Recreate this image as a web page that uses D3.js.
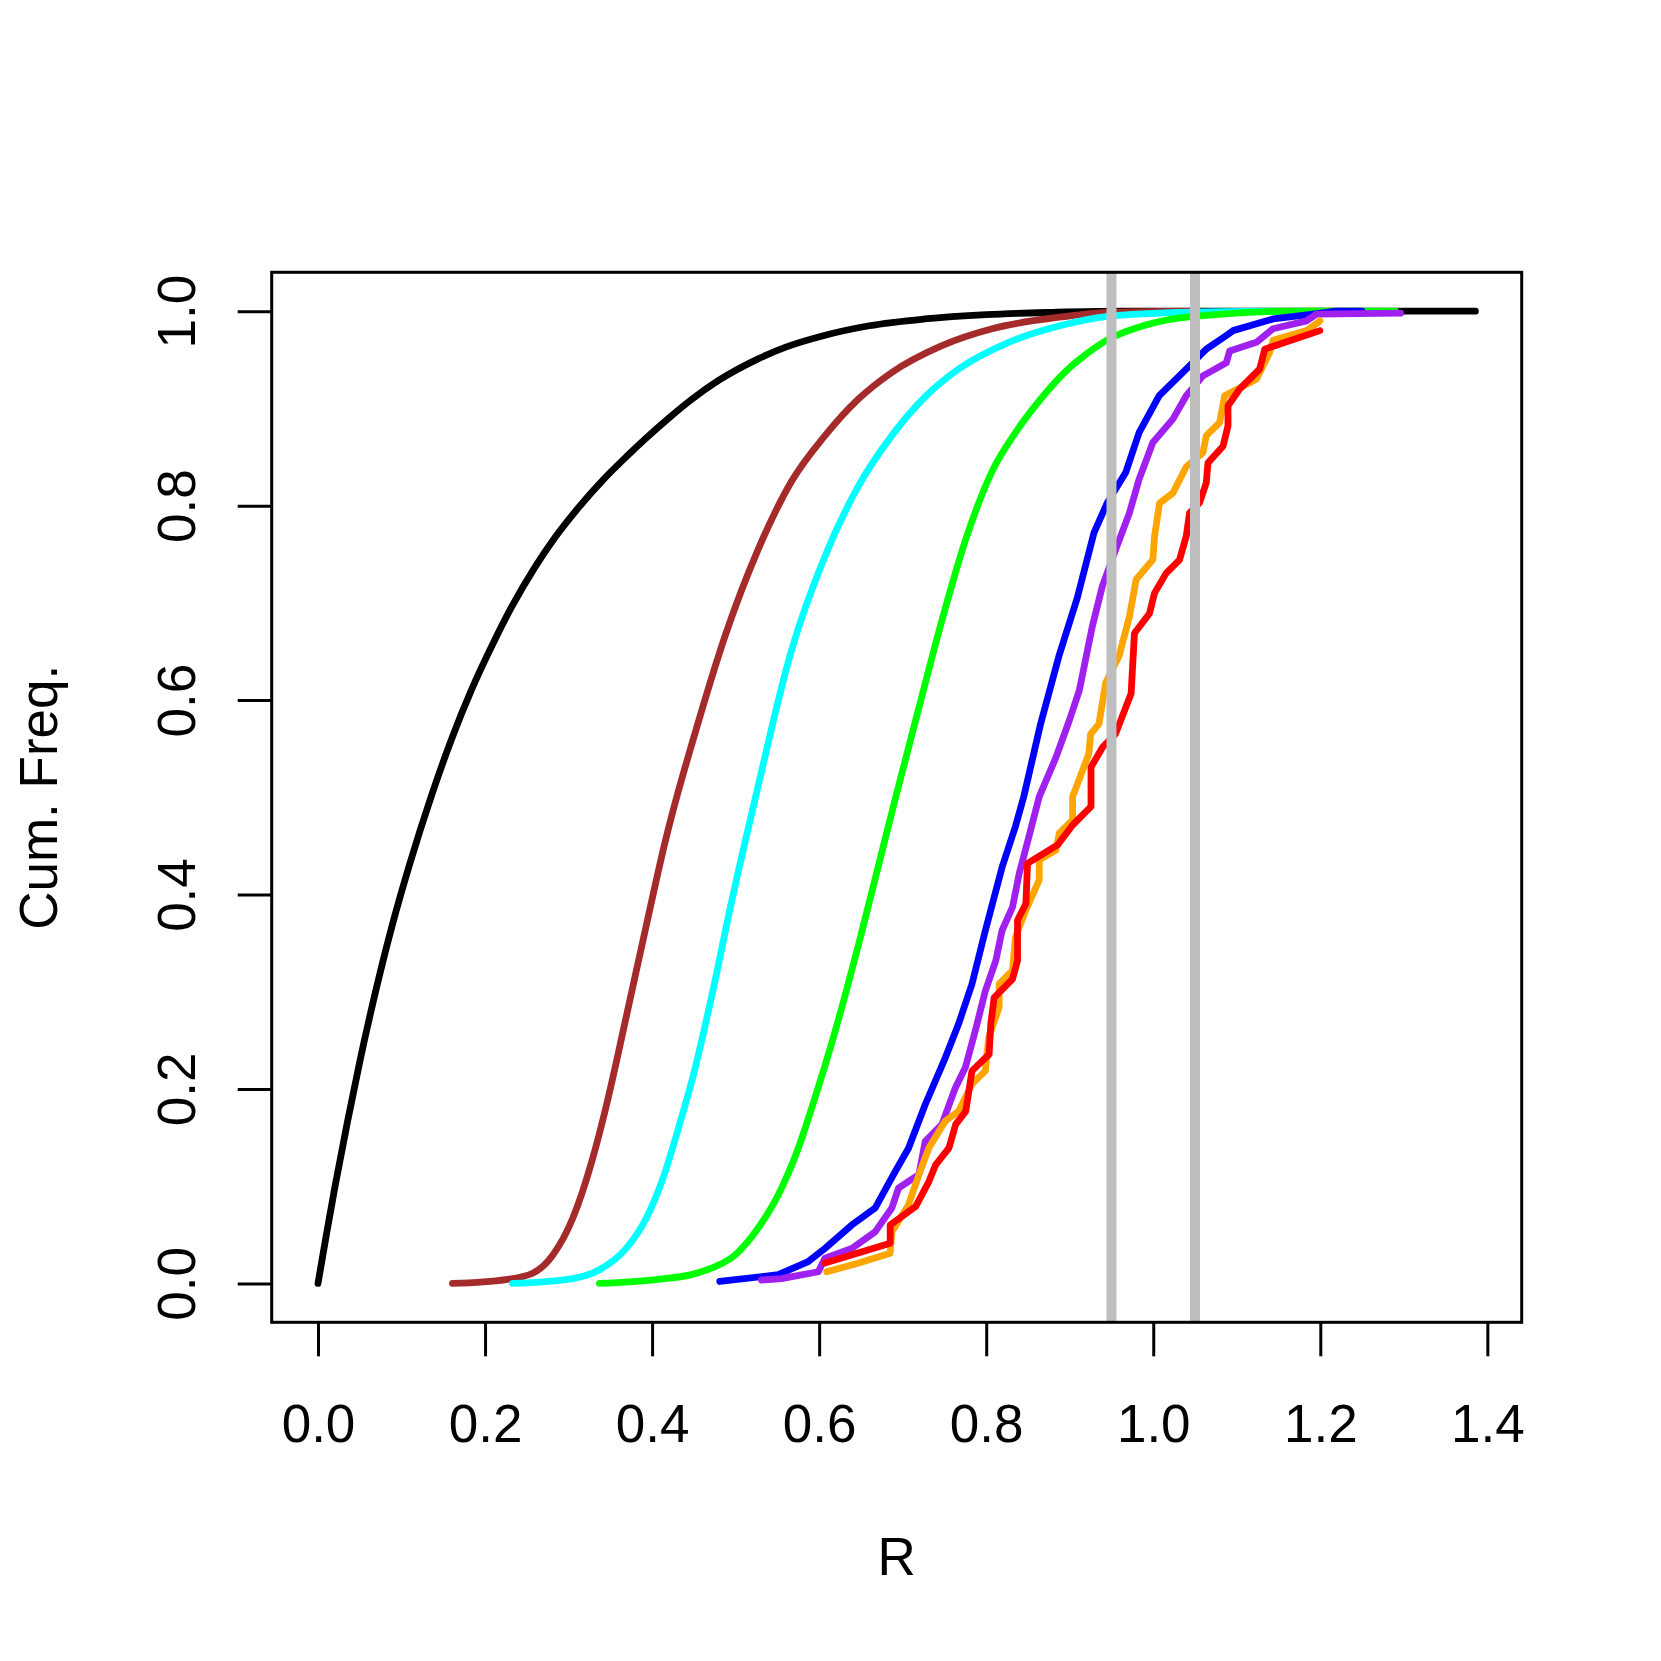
<!DOCTYPE html>
<html>
<head>
<meta charset="utf-8">
<script src="https://cdn.jsdelivr.net/npm/d3@7"></script>
<style>
  body { margin: 0; background: #fff; }
  svg { display: block; font-family: "Liberation Sans", Arial, Helvetica, sans-serif; }
</style>
</head>
<body>
<svg id="chart"></svg>
<script>
// cumulative frequency curves, [R, cum. freq.]
var black = [[0,0],[0.01,0.05],[0.02,0.098],[0.035,0.165],[0.05,0.228],[0.07,0.304],[0.09,0.372],[0.11,0.432],
  [0.136,0.502],[0.16,0.560],[0.184,0.611],[0.21,0.659],[0.232,0.696],[0.26,0.737],[0.2835,0.767],[0.31,0.796],
  [0.343,0.828],[0.37,0.851],[0.391,0.868],[0.42,0.890],[0.447,0.909],[0.48,0.929],[0.527,0.951],[0.56,0.963],
  [0.606,0.975],[0.66,0.985],[0.726,0.992],[0.8,0.9965],[0.88,0.9988],[0.96,1.0],[1.3857,1.0]];
var brown = [[0.161,0],[0.225,0.004],[0.257,0.0105],[0.281,0.029],[0.305,0.067],[0.329,0.129],[0.345,0.182],
  [0.369,0.274],[0.393,0.368],[0.417,0.459],[0.431,0.505],[0.447,0.553],[0.487,0.665],[0.527,0.755],
  [0.567,0.825],[0.607,0.872],[0.647,0.9096],[0.687,0.937],[0.747,0.9646],[0.807,0.982],[0.888,0.9938],
  [0.95,0.999],[1.05,1.0]];
var cyan = [[0.233,0],[0.305,0.005],[0.337,0.014],[0.369,0.036],[0.393,0.067],[0.413,0.108],[0.433,0.164],
  [0.449,0.213],[0.471,0.294],[0.495,0.392],[0.524,0.5007],[0.567,0.6515],[0.607,0.748],[0.647,0.820],
  [0.687,0.872],[0.727,0.912],[0.767,0.9405],[0.827,0.968],[0.888,0.985],[0.943,0.9945],[1.0435,0.999],[1.15,1.0]];
var green = [[0.337,0],[0.405,0.004],[0.447,0.009],[0.471,0.0156],[0.499,0.029],[0.527,0.057],[0.551,0.091],
  [0.575,0.139],[0.595,0.191],[0.615,0.247],[0.631,0.296],[0.647,0.348],[0.667,0.416],[0.691,0.498],
  [0.7194,0.592],[0.747,0.682],[0.7754,0.765],[0.8075,0.836],[0.835,0.875],[0.8675,0.912],[0.895,0.938],
  [0.92,0.956],[0.943,0.9695],[0.983,0.9836],[1.0235,0.992],[1.0835,0.997],[1.1635,1.0],[1.29,1.0]];
var blue = [[0.481,0.002],[0.551,0.009],[0.587,0.0225],[0.607,0.036],[0.639,0.060],[0.667,0.0775],[0.691,0.115],
  [0.707,0.139],[0.727,0.184],[0.751,0.232],[0.767,0.267],[0.783,0.308],[0.799,0.363],[0.819,0.428],
  [0.835,0.470],[0.845,0.5007],[0.865,0.575],[0.887,0.645],[0.909,0.705],[0.929,0.772],[0.945,0.803],
  [0.967,0.834],[0.983,0.875],[1.007,0.913],[1.0355,0.937],[1.0635,0.961],[1.0875,0.975],[1.0955,0.980],
  [1.1435,0.992],[1.1915,0.997],[1.2185,1.0],[1.25,1.0]];
var purple = [[0.531,0.0035],[0.555,0.005],[0.599,0.012],[0.607,0.026],[0.639,0.036],[0.667,0.053],[0.687,0.0775],
  [0.695,0.098],[0.7194,0.112],[0.727,0.146],[0.747,0.1636],[0.763,0.201],[0.775,0.222],[0.787,0.260],
  [0.799,0.301],[0.8115,0.332],[0.819,0.363],[0.8315,0.387],[0.8395,0.4215],[0.851,0.459],[0.8635,0.5007],
  [0.8835,0.541],[0.8995,0.579],[0.9115,0.610],[0.927,0.6755],[0.939,0.717],[0.955,0.7547],[0.9715,0.7925],
  [0.983,0.827],[0.9995,0.865],[1.0235,0.889],[1.0395,0.913],[1.0595,0.9335],[1.0875,0.947],[1.0915,0.959],
  [1.1235,0.968],[1.1435,0.982],[1.1835,0.990],[1.1955,0.997],[1.296,0.998]];
var orange = [[0.609,0.012],[0.6475,0.021],[0.685,0.031],[0.687,0.053],[0.707,0.081],[0.7195,0.112],[0.7315,0.1395],
  [0.751,0.167],[0.767,0.177],[0.783,0.205],[0.799,0.2186],[0.803,0.253],[0.8155,0.284],[0.8155,0.308],
  [0.8315,0.322],[0.835,0.356],[0.8475,0.384],[0.8635,0.415],[0.8635,0.4355],[0.8835,0.4457],[0.8875,0.463],
  [0.9035,0.4767],[0.9035,0.5007],[0.923,0.545],[0.925,0.565],[0.935,0.5755],[0.943,0.6175],[0.959,0.645],
  [0.9715,0.686],[0.9795,0.724],[0.9995,0.7445],[1.0015,0.768],[1.0075,0.8025],[1.0235,0.813],[1.0395,0.840],
  [1.0595,0.8545],[1.0635,0.872],[1.0795,0.8855],[1.0855,0.913],[1.1235,0.930],[1.1395,0.9577],[1.1435,0.970],
  [1.1835,0.980],[1.1995,0.990]];
var red = [[0.607,0.021],[0.685,0.0414],[0.685,0.060],[0.7155,0.079],[0.7315,0.105],[0.7395,0.122],[0.7555,0.1395],
  [0.7635,0.1636],[0.7755,0.177],[0.783,0.2186],[0.8035,0.2357],[0.8055,0.267],[0.8095,0.294],[0.8315,0.313],
  [0.8375,0.332],[0.8375,0.3735],[0.8475,0.3905],[0.8495,0.432],[0.8855,0.451],[0.9035,0.4715],[0.9255,0.4905],
  [0.9255,0.531],[0.9395,0.5517],[0.955,0.5655],[0.9735,0.6068],[0.9775,0.6687],[0.9955,0.689],[1.0015,0.710],
  [1.0155,0.7306],[1.0315,0.7443],[1.0395,0.7685],[1.0435,0.7925],[1.0555,0.803],[1.0635,0.8235],[1.0655,0.844],
  [1.0835,0.861],[1.0895,0.882],[1.0895,0.9027],[1.1035,0.920],[1.1275,0.9405],[1.1335,0.961],[1.1995,0.980]];

var vlines = [0.95, 1.05];
var xTicks = [0, 0.2, 0.4, 0.6, 0.8, 1.0, 1.2, 1.4];
var yTicks = [0, 0.2, 0.4, 0.6, 0.8, 1.0];

var series = [
  {pts: black, col: "#000000", smooth: true},
  {pts: brown, col: "#A52A2A", smooth: true},
  {pts: cyan, col: "#00FFFF", smooth: true},
  {pts: green, col: "#00FF00", smooth: true},
  {pts: blue, col: "#0000FF", smooth: false},
  {pts: purple, col: "#A020F0", smooth: false},
  {pts: orange, col: "#FFA500", smooth: false},
  {pts: red, col: "#FF0000", smooth: false}
];

var width = 1661, height = 1661;
var box = {left: 271.7, right: 1521.7, top: 272.3, bottom: 1322.3};
var fontSize = 53;

var svg = d3.select("#chart")
  .attr("width", width)
  .attr("height", height);

svg.append("rect").attr("width", width).attr("height", height).attr("fill", "#fff");

// R style 4% padding around the data range
var xmax = 1.3857;
var x = d3.scaleLinear()
  .domain([-0.04 * xmax, xmax * 1.04])
  .range([box.left, box.right]);
var y = d3.scaleLinear()
  .domain([-0.04, 1.04])
  .range([box.bottom, box.top]);

svg.append("clipPath").attr("id", "clip")
  .append("rect")
  .attr("x", box.left).attr("y", box.top)
  .attr("width", box.right - box.left).attr("height", box.bottom - box.top);

var plot = svg.append("g").attr("clip-path", "url(#clip)");

series.forEach(function(s) {
  var line = d3.line()
    .x(d => x(d[0]))
    .y(d => y(d[1]))
    .curve(s.smooth ? d3.curveMonotoneX : d3.curveLinear);
  plot.append("path")
    .datum(s.pts)
    .attr("d", line)
    .attr("fill", "none")
    .attr("stroke", s.col)
    .attr("stroke-width", 6.8)
    .attr("stroke-linecap", "round")
    .attr("stroke-linejoin", "round");
});

plot.selectAll("line.vl")
  .data(vlines)
  .join("line")
    .attr("class", "vl")
    .attr("x1", d => x(d)).attr("x2", d => x(d))
    .attr("y1", box.top).attr("y2", box.bottom)
    .attr("stroke", "#BEBEBE")
    .attr("stroke-width", 10);

// frame
svg.append("rect")
  .attr("x", box.left).attr("y", box.top)
  .attr("width", box.right - box.left).attr("height", box.bottom - box.top)
  .attr("fill", "none")
  .attr("stroke", "#000")
  .attr("stroke-width", 3);

var xAxis = g => g
  .attr("transform", `translate(0,${box.bottom})`)
  .call(d3.axisBottom(x).tickValues(xTicks).tickFormat(d3.format(".1f")).tickSize(34).tickSizeOuter(0))
  .call(g => g.select(".domain").remove())
  .call(g => g.selectAll(".tick line").attr("stroke-width", 3))
  .call(g => g.selectAll(".tick text")
    .attr("y", 119.4).attr("dy", null)
    .attr("font-size", fontSize).attr("fill", "#000")
    .attr("font-family", "Liberation Sans, Arial, sans-serif"));

var yAxis = g => g
  .attr("transform", `translate(${box.left},0)`)
  .call(d3.axisLeft(y).tickValues(yTicks).tickFormat(d3.format(".1f")).tickSize(34).tickSizeOuter(0))
  .call(g => g.select(".domain").remove())
  .call(g => g.selectAll(".tick line").attr("stroke-width", 3))
  .call(g => g.selectAll(".tick text")
    .attr("x", 0).attr("y", -77).attr("dy", null)
    .attr("transform", "rotate(-90)")
    .attr("text-anchor", "middle")
    .attr("font-size", fontSize).attr("fill", "#000")
    .attr("font-family", "Liberation Sans, Arial, sans-serif"));

svg.append("g").call(xAxis);
svg.append("g").call(yAxis);

svg.append("text")
  .attr("x", (box.left + box.right) / 2)
  .attr("y", 1575)
  .attr("text-anchor", "middle")
  .style("font-size", fontSize + "px")
  .text("R");

svg.append("text")
  .attr("transform", `translate(57,${(box.top + box.bottom) / 2}) rotate(-90)`)
  .attr("text-anchor", "middle")
  .style("font-size", fontSize + "px")
  .text("Cum. Freq.");
</script>
</body>
</html>
